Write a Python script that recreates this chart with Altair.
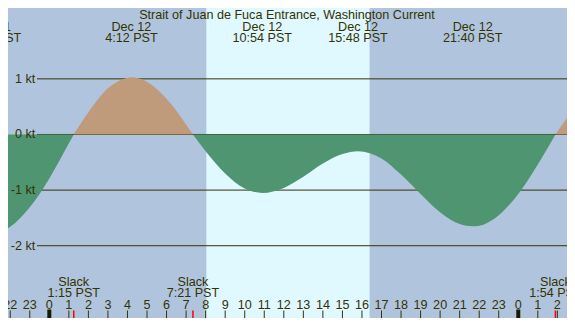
import altair as alt
import pandas as pd

# ---- layout: the page adds an 8px margin on every side, so the chart is 559x310 ----
W, H = 559, 310
X0, X1 = -2.1144, 26.493       # hours since Dec 12 00:00 PST
Y0, Y1 = -3.2991, 2.2735       # knots

NIGHT = "#B0C4DE"
DAY = "#E0F8FF"
FLOOD = "#BF9B7B"
EBB = "#4F9571"
TC = "#333300"
FONT = "Liberation Sans"
FS = 12.6

TITLE = "Strait of Juan de Fuca Entrance, Washington Current"

# ---- current samples (hours, knots) ----
ebb0_h = [-3.0, -2.0, -1.0, 0.0, 1.0, 1.25]
ebb0_v = [-1.78, -1.66, -1.31, -0.79, -0.16, 0.0]
flood1_h = [1.25, 2.0, 3.0, 4.0, 4.2, 5.0, 6.0, 7.0, 7.35]
flood1_v = [0.0, 0.40, 0.83, 1.02, 1.03, 0.95, 0.64, 0.18, 0.0]
ebb2_h = [7.35, 8.0, 9.0, 10.0, 10.9, 12.0, 13.0, 14.0, 15.0, 15.8, 17.0, 18.0,
          19.0, 20.0, 21.0, 21.67, 22.0, 23.0, 24.0, 25.0, 25.9]
ebb2_v = [0.0, -0.30, -0.70, -0.97, -1.05, -0.96, -0.76, -0.52, -0.35, -0.30, -0.43, -0.72,
          -1.07, -1.40, -1.61, -1.65, -1.64, -1.45, -1.07, -0.54, 0.0]
flood3_h = [25.9, 26.5, 27.0]
flood3_v = [0.0, 0.30, 0.53]

# ---- daylight ----
sunrise_h = 8.035
sunset_h = 16.39

# ---- events ----
event_h = [-2.96, 4.2, 10.9, 15.8, 21.667]
event_date = ["Dec 11", "Dec 12", "Dec 12", "Dec 12", "Dec 12"]
event_time = ["21:02 PST", "4:12 PST", "10:54 PST", "15:48 PST", "21:40 PST"]

slack_h = [1.25, 7.35, 25.9]
slack_time = ["1:15 PST", "7:21 PST", "1:54 PST"]

# ---- axes ----
level_v = [1, 0, -1, -2]
level_lab = ["1 kt", "0 kt", "-1 kt", "-2 kt"]
hour_h = list(range(-2, 27))
hour_lab = ["22", "23"] + [str(i) for i in range(24)] + ["0", "1", "2"]
midnight_h = [0, 24]

# ---- tables ----
rows = []
for seg, kind, hs, vs in [("e0", "ebb", ebb0_h, ebb0_v), ("f1", "flood", flood1_h, flood1_v),
                          ("e2", "ebb", ebb2_h, ebb2_v), ("f3", "flood", flood3_h, flood3_v)]:
    for h, v in zip(hs, vs):
        rows.append({"h": h, "v": v, "seg": seg, "kind": kind})
curve = pd.DataFrame(rows)

xs = alt.Scale(domain=[X0, X1], nice=False, zero=False)
ys = alt.Scale(domain=[Y0, Y1], nice=False, zero=False)

def X(f="h"):
    return alt.X(f + ":Q", scale=xs, axis=None)

def Y(f="v"):
    return alt.Y(f + ":Q", scale=ys, axis=None)

def txt(df, **kw):
    return alt.Chart(df).mark_text(font=FONT, fontSize=FS, color=TC, **kw)

day = alt.Chart(pd.DataFrame({"h": [sunrise_h], "h2": [sunset_h]})).mark_rect(color=DAY).encode(
    x=X(), x2="h2:Q", y=alt.value(0), y2=alt.value(H))

levels = pd.DataFrame({"v": level_v, "lab": level_lab})
rules = alt.Chart(levels).mark_rule(color=TC, strokeWidth=1).encode(
    y=Y(), x=alt.value(29), x2=alt.value(W))

area = alt.Chart(curve).mark_area(interpolate="monotone", clip=True).encode(
    x=X(), y=Y(), y2=alt.datum(0),
    color=alt.Color("kind:N", scale=alt.Scale(domain=["flood", "ebb"], range=[FLOOD, EBB]), legend=None),
    detail="seg:N")

level_text = txt(levels, align="right", baseline="middle").encode(
    x=alt.value(27.2), y=Y(), text="lab:N")

hours = pd.DataFrame({"h": hour_h, "lab": hour_lab})
ticks = alt.Chart(hours).mark_rule(color=TC, strokeWidth=1).encode(
    x=X(), y=alt.value(302.5), y2=alt.value(H))
mid = alt.Chart(pd.DataFrame({"h": midnight_h})).mark_rule(color="#1a1a00", strokeWidth=4).encode(
    x=X(), y=alt.value(301.5), y2=alt.value(H))
slack_df = pd.DataFrame({"h": slack_h, "t": slack_time, "s": ["Slack"] * len(slack_h)})
red = alt.Chart(slack_df).mark_rule(color="#FF0000", strokeWidth=1.5).encode(
    x=X(), y=alt.value(302.5), y2=alt.value(H))
hour_text = txt(hours, baseline="alphabetic").encode(x=X(), y=alt.value(300.5), text="lab:N")
slack_word = txt(slack_df, baseline="alphabetic").encode(x=X(), y=alt.value(277.5), text="s:N")
slack_text = txt(slack_df, baseline="alphabetic").encode(x=X(), y=alt.value(289.2), text="t:N")

ev = pd.DataFrame({"h": event_h, "d": event_date, "t": event_time})
ev_date = txt(ev, baseline="alphabetic").encode(x=X(), y=alt.value(22.8), text="d:N")
ev_time = txt(ev, baseline="alphabetic").encode(x=X(), y=alt.value(34.3), text="t:N")

title = txt(pd.DataFrame({"t": [TITLE]}), baseline="alphabetic").encode(
    x=alt.value(279), y=alt.value(11.0), text="t:N")

chart = alt.layer(day, rules, area, level_text, ticks, mid, red, hour_text, slack_word, slack_text,
                  ev_date, ev_time, title).properties(
    width=W, height=H, padding=0, autosize="none", background=NIGHT
).configure_view(stroke=None)

chart.save("out.html", embed_options={"renderer": "svg", "actions": False})
